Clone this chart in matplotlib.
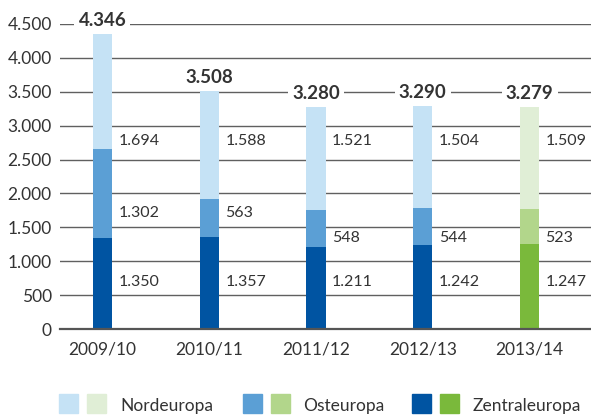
import matplotlib.pyplot as plt
from matplotlib.patches import Rectangle

plt.rcParams['font.family'] = ['Lato', 'DejaVu Sans']

years = ["2009/10", "2010/11", "2011/12", "2012/13", "2013/14"]
zentral = [1350, 1357, 1211, 1242, 1247]
ost = [1302, 563, 548, 544, 523]
nord = [1694, 1588, 1521, 1504, 1509]
totals = [4346, 3508, 3280, 3290, 3279]

blues = ["#c5e2f5", "#5b9fd5", "#0054a2"]   # nord, ost, zentral
greens = ["#e0eed6", "#b2d68b", "#7ab93b"]
# year 2013/14 drawn in green
palettes = [blues, blues, blues, blues, greens]

# heights of the small value labels (style only)
lab_y_nord = [2770, 2770, 2770, 2770, 2770]
lab_y_ost = [1710, 1710, 1340, 1340, 1340]
lab_y_zent = [690, 690, 690, 690, 690]

def fmt(v):
    return f"{v:,}".replace(",", ".")

W, H = 591, 416
fig = plt.figure(figsize=(W / 100, H / 100), dpi=100)
ax = fig.add_axes([60 / W, (H - 329) / H, 531 / W, 305 / H])

txt = "#333333"
x = list(range(len(years)))
bw = 0.18
for i in x:
    c = palettes[i]
    ax.bar(i, zentral[i], bw, color=c[2], zorder=3)
    ax.bar(i, ost[i], bw, bottom=zentral[i], color=c[1], zorder=3)
    ax.bar(i, nord[i], bw, bottom=zentral[i] + ost[i], color=c[0], zorder=3)
    lx = i + bw / 2 + 0.06
    for v, yy in [(nord[i], lab_y_nord[i]), (ost[i], lab_y_ost[i]), (zentral[i], lab_y_zent[i])]:
        ax.text(lx, yy, fmt(v), ha="left", va="center", fontsize=11.5, color=txt, zorder=4)
    ax.text(i, totals[i] + 200, fmt(totals[i]), ha="center", va="center", fontsize=13.5,
            fontweight="bold", color=txt, zorder=5, clip_on=False,
            bbox=dict(facecolor="white", edgecolor="none", pad=3))

ax.set_xlim(-0.398, 4.576)
ax.set_ylim(0, 4500)
ax.set_yticks(range(0, 4501, 500))
ax.set_yticklabels([fmt(v) for v in range(0, 4501, 500)])
ax.set_xticks(x)
ax.set_xticklabels(years)
ax.tick_params(axis="both", length=0, labelsize=12.5, colors=txt)
ax.tick_params(axis="y", pad=6)
ax.tick_params(axis="x", pad=9)
ax.yaxis.grid(True, color="#606060", linewidth=1.0, zorder=0)
ax.set_axisbelow(True)
for s in ["top", "right", "left"]:
    ax.spines[s].set_visible(False)
ax.spines["bottom"].set_color("#555555")
ax.spines["bottom"].set_linewidth(1.6)
ax.spines["bottom"].set_zorder(4)

# legend drawn below the plot
legend_items = [
    ("Nordeuropa", blues[0], greens[0], 59, 120),
    ("Osteuropa", blues[1], greens[1], 243, 303),
    ("Zentraleuropa", blues[2], greens[2], 412, 473),
]
for name, cb, cg, px, tx in legend_items:
    for k, col in enumerate([cb, cg]):
        fig.patches.append(Rectangle(((px + k * 28) / W, (H - 413) / H), 19 / W, 19 / H,
                                     transform=fig.transFigure, color=col))
    fig.text(tx / W, (H - 406) / H, name, ha="left", va="center", fontsize=12.5, color=txt)

fig.savefig("out.png", dpi=100)
